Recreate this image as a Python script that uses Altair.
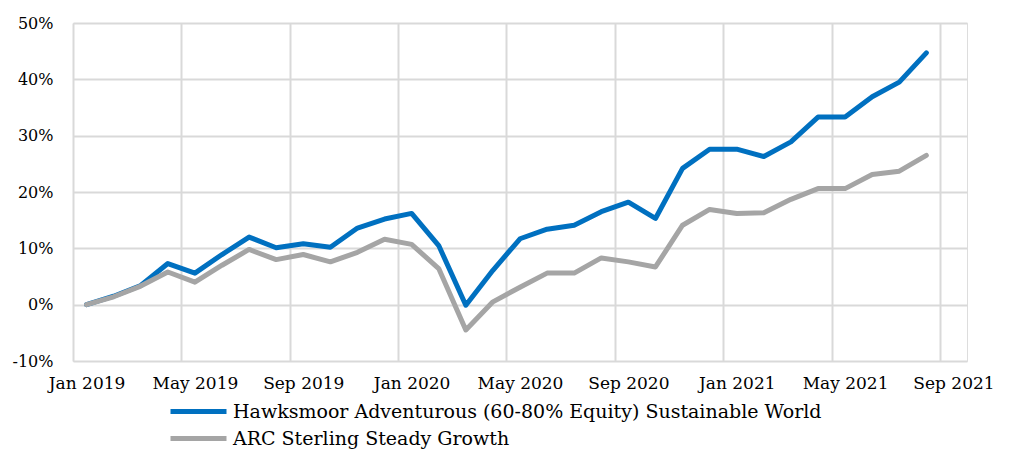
import altair as alt
import pandas as pd

months = [
    "Jan 2019", "Feb 2019", "Mar 2019", "Apr 2019", "May 2019", "Jun 2019", "Jul 2019", "Aug 2019",
    "Sep 2019", "Oct 2019", "Nov 2019", "Dec 2019", "Jan 2020", "Feb 2020", "Mar 2020", "Apr 2020",
    "May 2020", "Jun 2020", "Jul 2020", "Aug 2020", "Sep 2020", "Oct 2020", "Nov 2020", "Dec 2020",
    "Jan 2021", "Feb 2021", "Mar 2021", "Apr 2021", "May 2021", "Jun 2021", "Jul 2021", "Aug 2021",
]
tick_labels = ["Jan 2019", "May 2019", "Sep 2019", "Jan 2020", "May 2020",
               "Sep 2020", "Jan 2021", "May 2021", "Sep 2021"]

hawksmoor = [0.0, 1.5, 3.4, 7.3, 5.6, 8.9, 12.0, 10.1, 10.8, 10.2, 13.6, 15.2, 16.2, 10.5, -0.1, 6.1,
             11.7, 13.4, 14.1, 16.5, 18.2, 15.3, 24.2, 27.6, 27.6, 26.3, 28.9, 33.3, 33.3, 36.9, 39.5, 44.7]
arc = [0.0, 1.4, 3.3, 5.8, 4.0, 7.0, 9.8, 8.0, 8.9, 7.6, 9.3, 11.6, 10.7, 6.4, -4.5, 0.5,
       3.1, 5.6, 5.6, 8.3, 7.6, 6.7, 14.1, 16.9, 16.2, 16.3, 18.7, 20.6, 20.6, 23.1, 23.7, 26.5]

series_names = ["Hawksmoor Adventurous (60-80% Equity) Sustainable World", "ARC Sterling Steady Growth"]
series_colors = ["#0070C0", "#A5A5A5"]

rows = []
for name, vals in zip(series_names, [hawksmoor, arc]):
    for i, (m, v) in enumerate(zip(months, vals)):
        rows.append({"idx": i, "month": m, "series": name, "value": v / 100})
df = pd.DataFrame(rows)

FONT = "DejaVu Serif"
W, H = 894, 338
month_px = W / 33.0

label_array = "[" + ",".join("'" + t + "'" for t in tick_labels) + "]"

x_enc = alt.X(
    "idx:Q",
    scale=alt.Scale(domain=[-0.5, 32.5], nice=False, zero=False),
    axis=alt.Axis(
        values=[-0.5 + 4 * k for k in range(len(tick_labels))],
        labelExpr=label_array + "[round((datum.value + 0.5) / 4)]",
        labelOffset=month_px / 2,
        ticks=False,
        domain=False,
        grid=True,
        gridColor="#D9D9D9",
        gridWidth=2,
        labelFont=FONT,
        labelFontSize=17,
        labelColor="#000000",
        labelPadding=14,
        labelFlush=False,
        labelOverlap=False,
        title=None,
    ),
)
y_enc = alt.Y(
    "value:Q",
    scale=alt.Scale(domain=[-0.1, 0.5], nice=False),
    axis=alt.Axis(
        values=[-0.1, 0.0, 0.1, 0.2, 0.3, 0.4, 0.5],
        labelExpr="round(datum.value * 100) + '%'",
        ticks=False,
        domain=False,
        grid=True,
        gridColor="#D9D9D9",
        gridWidth=2,
        labelFont=FONT,
        labelFontSize=16,
        labelColor="#000000",
        labelPadding=20,
        title=None,
    ),
)
color_enc = alt.Color(
    "series:N",
    scale=alt.Scale(domain=series_names, range=series_colors),
    legend=alt.Legend(
        orient="none",
        legendX=109,
        legendY=372,
        direction="vertical",
        title=None,
        symbolType="M-2,0H2",
        symbolSize=784,
        symbolStrokeWidth=5,
        labelFont=FONT,
        labelFontSize=19,
        labelColor="#000000",
        labelLimit=800,
        labelOffset=18,
        rowPadding=-4,
    ),
)

base = alt.Chart(df).mark_line(strokeWidth=5, strokeCap="round", strokeJoin="round")
blue = base.encode(x=x_enc, y=y_enc, color=color_enc).transform_filter(
    alt.datum.series == series_names[0])
gray = base.encode(x=x_enc, y=y_enc, color=color_enc).transform_filter(
    alt.datum.series == series_names[1])

chart = alt.layer(blue, gray).properties(
    width=W,
    height=H,
    autosize=alt.AutoSizeParams(type="none"),
    padding={"left": 65, "top": 15, "right": 35, "bottom": 88},
).configure_view(stroke=None).configure(background="#FFFFFF")

chart.save("out.html", embed_options={"renderer": "svg", "actions": False})
